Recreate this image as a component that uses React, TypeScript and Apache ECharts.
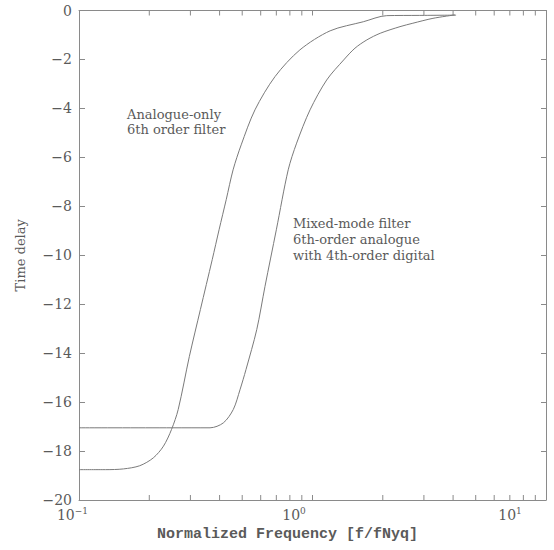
import React, { useEffect, useRef } from 'react';
import * as echarts from 'echarts';

// Analogue-only 6th order filter
const analogueFreq = [0.1, 0.13, 0.155, 0.182, 0.208, 0.23, 0.249, 0.266, 0.297, 0.331, 0.372, 0.398, 0.427, 0.457, 0.495, 0.567, 0.691, 0.883, 1.19, 1.65, 2.08, 2.88, 4.12];
const analogueDelay = [-18.76, -18.76, -18.73, -18.6, -18.28, -17.8, -17.12, -16.3, -14.13, -12.22, -10.18, -8.96, -7.73, -6.51, -5.49, -4.06, -2.7, -1.61, -0.83, -0.46, -0.21, -0.2, -0.19];

// Mixed-mode filter: 6th-order analogue with 4th-order digital
const mixedFreq = [0.1, 0.25, 0.364, 0.415, 0.458, 0.489, 0.519, 0.577, 0.626, 0.7, 0.787, 0.855, 0.976, 1.15, 1.36, 1.52, 1.71, 1.95, 2.37, 2.69, 3.28, 4.07];
const mixedDelay = [-17.05, -17.05, -17.05, -16.85, -16.3, -15.5, -14.67, -13.04, -11.27, -8.96, -6.51, -5.42, -4.06, -2.84, -2.02, -1.54, -1.2, -0.93, -0.66, -0.52, -0.32, -0.18];

const xMin = 0.1;
const xMax = 10;
const yMin = -20;
const yMax = 0;
const yInterval = 2;
const minorTickFreqs = [0.2, 0.3, 0.4, 0.5, 0.6, 0.7, 0.8, 0.9, 2, 3, 4, 5, 6, 7, 8, 9];
const xLabelShift: Record<number, string> = { [-1]: 'p1', [0]: 'p0', [1]: 'p2' };

const axisColor = '#8a8a8a';
const textColor = '#5a5a5a';
const lineColor = '#7a7a7a';

export default function App() {
  const ref = useRef<HTMLDivElement>(null);
  useEffect(() => {
    if (!ref.current) return;
    const chart = echarts.init(ref.current, undefined, { renderer: 'svg' });
    const serif = 'DejaVu Serif';
    const option: any = {
      animation: false,
      backgroundColor: '#ffffff',
      grid: { left: 79, right: 8, top: 10.5, bottom: 50, containLabel: false, outerBoundsMode: 'none' },
      xAxis: [
        {
          type: 'log',
          logBase: 10,
          min: xMin,
          max: xMax,
          position: 'bottom',
          name: 'Normalized Frequency [f/fNyq]',
          nameLocation: 'middle',
          nameGap: 26,
          nameTextStyle: {
            fontFamily: 'Liberation Mono',
            fontWeight: 'bold',
            fontSize: 15,
            color: textColor,
            verticalAlign: 'top',
            padding: [0, 50, 0, 0],
          },
          axisLine: { show: true, onZero: false, lineStyle: { color: axisColor, width: 1 } },
          axisTick: { show: true, inside: true, length: 5, lineStyle: { color: axisColor } },
          splitLine: { show: false },
          axisLabel: {
            margin: 6,
            color: textColor,
            hideOverlap: false,
            formatter: (v: number) => {
              const e = Math.round(Math.log10(v));
              const sup = e < 0 ? '−' + Math.abs(e) : String(e);
              return '{b|10}{s|' + sup + '}{' + (xLabelShift[e] || 'p0') + '| }';
            },
            rich: {
              b: { fontFamily: serif, fontSize: 14, color: textColor, verticalAlign: 'bottom', lineHeight: 16 },
              s: { fontFamily: serif, fontSize: 9, color: textColor, verticalAlign: 'top', lineHeight: 16, padding: [0, 0, 6, 0] },
              p1: { width: 13, fontSize: 9 },
              p0: { width: 37, fontSize: 9 },
              p2: { width: 72, fontSize: 9 },
            },
          },
        },
        {
          type: 'log',
          logBase: 10,
          min: xMin,
          max: xMax,
          position: 'top',
          axisLine: { show: true, onZero: false, lineStyle: { color: axisColor, width: 1 } },
          axisTick: { show: true, inside: true, length: 5, lineStyle: { color: axisColor } },
          axisLabel: { show: false },
          splitLine: { show: false },
        },
      ],
      yAxis: [
        {
          type: 'value',
          min: yMin,
          max: yMax,
          interval: yInterval,
          position: 'left',
          name: 'Time delay',
          nameLocation: 'middle',
          nameGap: 52,
          nameTextStyle: { fontFamily: serif, fontSize: 13, color: textColor },
          axisLine: { show: true, onZero: false, lineStyle: { color: axisColor, width: 1 } },
          axisTick: { show: true, inside: true, length: 6, lineStyle: { color: axisColor } },
          splitLine: { show: false },
          axisLabel: {
            margin: 7,
            fontFamily: serif,
            fontSize: 14,
            color: textColor,
            formatter: (v: number) => (v === 0 ? '0' : '−' + Math.abs(v)),
          },
        },
        {
          type: 'value',
          min: yMin,
          max: yMax,
          interval: yInterval,
          position: 'right',
          axisLine: { show: true, onZero: false, lineStyle: { color: axisColor, width: 1 } },
          axisTick: { show: true, inside: true, length: 5, lineStyle: { color: axisColor } },
          axisLabel: { show: false },
          splitLine: { show: false },
        },
      ],
      series: [
        {
          type: 'line',
          name: 'Analogue-only',
          xAxisIndex: 0,
          yAxisIndex: 0,
          data: analogueFreq.map((f, i) => [f, analogueDelay[i]]),
          showSymbol: false,
          smooth: 0.3,
          lineStyle: { color: lineColor, width: 1 },
        },
        {
          type: 'line',
          name: 'Mixed-mode',
          xAxisIndex: 0,
          yAxisIndex: 0,
          data: mixedFreq.map((f, i) => [f, mixedDelay[i]]),
          showSymbol: false,
          smooth: 0.3,
          lineStyle: { color: lineColor, width: 1 },
        },
        {
          type: 'custom',
          xAxisIndex: 0,
          yAxisIndex: 0,
          silent: true,
          clip: false,
          data: minorTickFreqs.map((f) => [f, yMin]),
          encode: { x: 0, y: 1 },
          renderItem: (_p: any, api: any) => {
            const f = api.value(0);
            const b = api.coord([f, yMin]);
            const t = api.coord([f, yMax]);
            return {
              type: 'group',
              children: [
                { type: 'line', shape: { x1: b[0], y1: b[1], x2: b[0], y2: b[1] - 5 }, style: { stroke: axisColor, lineWidth: 1 } },
                { type: 'line', shape: { x1: t[0], y1: t[1], x2: t[0], y2: t[1] + 5 }, style: { stroke: axisColor, lineWidth: 1 } },
              ],
            };
          },
        },
      ],
      graphic: [
        {
          type: 'text',
          left: 127,
          top: 107,
          style: {
            text: 'Analogue-only\n6th order filter',
            font: '13px "DejaVu Serif"',
            fill: textColor,
            lineHeight: 15,
          },
        },
        {
          type: 'text',
          left: 293,
          top: 215,
          style: {
            text: 'Mixed-mode filter\n6th-order analogue\nwith 4th-order digital',
            font: '13px "DejaVu Serif"',
            fill: textColor,
            lineHeight: 16,
          },
        },
      ],
    };
    chart.setOption(option);
    return () => chart.dispose();
  }, []);
  return (
    <div
      ref={ref}
      style={{ position: 'fixed', left: 0, top: 0, width: 554, height: 550, background: '#fff' }}
    />
  );
}
